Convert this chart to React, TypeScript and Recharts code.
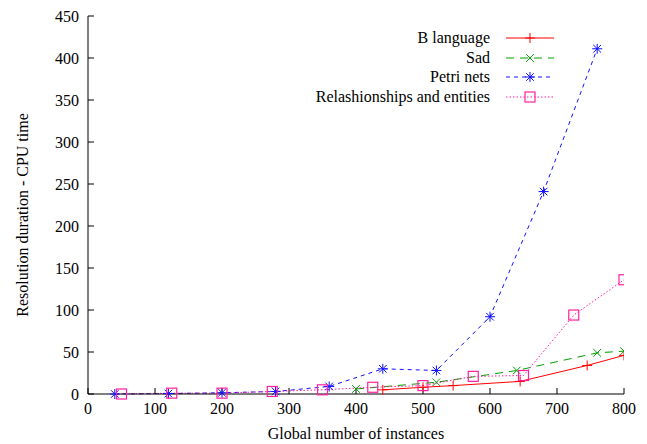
import { LineChart, Line, XAxis, YAxis, Label } from 'recharts';

const xTicks = [0, 100, 200, 300, 400, 500, 600, 700, 800];
const yTicks = [0, 50, 100, 150, 200, 250, 300, 350, 400, 450];

const bX = [440, 500, 545, 645, 745, 800];
const bY = [5, 8, 10, 15, 34, 46];

const sadX = [400, 520, 640, 760, 800];
const sadY = [6, 14, 28, 49, 51];

const petriX = [40, 120, 200, 280, 360, 440, 520, 600, 680, 760];
const petriY = [0, 0.5, 1.5, 3, 9, 30, 28, 92, 241, 411];

const relX = [50, 125, 200, 275, 350, 425, 500, 575, 650, 725, 800];
const relY = [0, 1, 1, 3, 5, 8, 10, 21, 22, 94, 136];

const FONT = "'Liberation Serif', 'Times New Roman', Times, 'DejaVu Serif', serif";

const zip = (xs: number[], ys: number[]) => xs.map((x, i) => ({ x, y: ys[i] }));

type Mark = 'plus' | 'cross' | 'star' | 'square';

function marker(kind: Mark, cx: number, cy: number, color: string, key?: string) {
  const s = 5;
  if (kind === 'plus') {
    return (
      <g key={key} stroke={color} strokeWidth={1}>
        <line x1={cx - s} y1={cy} x2={cx + s} y2={cy} />
        <line x1={cx} y1={cy - s} x2={cx} y2={cy + s} />
      </g>
    );
  }
  if (kind === 'cross') {
    const d = 3.8;
    return (
      <g key={key} stroke={color} strokeWidth={1}>
        <line x1={cx - d} y1={cy - d} x2={cx + d} y2={cy + d} />
        <line x1={cx - d} y1={cy + d} x2={cx + d} y2={cy - d} />
      </g>
    );
  }
  if (kind === 'star') {
    const d = 3.8;
    return (
      <g key={key} stroke={color} strokeWidth={1}>
        <line x1={cx - s} y1={cy} x2={cx + s} y2={cy} />
        <line x1={cx} y1={cy - s} x2={cx} y2={cy + s} />
        <line x1={cx - d} y1={cy - d} x2={cx + d} y2={cy + d} />
        <line x1={cx - d} y1={cy + d} x2={cx + d} y2={cy - d} />
      </g>
    );
  }
  return (
    <rect key={key} x={cx - 5} y={cy - 5} width={10} height={10} fill="none" stroke={color} strokeWidth={1.2} />
  );
}

const series = [
  { name: 'B language', data: zip(bX, bY), color: '#ff0000', dash: undefined, mark: 'plus' as Mark },
  { name: 'Sad', data: zip(sadX, sadY), color: '#00a000', dash: '8 6', mark: 'cross' as Mark },
  { name: 'Petri nets', data: zip(petriX, petriY), color: '#1010ff', dash: '4 4', mark: 'star' as Mark },
  { name: 'Relashionships and entities', data: zip(relX, relY), color: '#ff20a0', dash: '1.5 2', mark: 'square' as Mark },
];

function LegendBox() {
  return (
    <div
      style={{
        position: 'absolute',
        top: 28,
        left: 204,
        width: 362,
        fontFamily: FONT,
        fontSize: 16,
        color: '#000',
      }}
    >
      {series.map((s) => (
        <div key={s.name} style={{ display: 'flex', alignItems: 'center', height: 19.7, justifyContent: 'flex-end' }}>
          <span style={{ whiteSpace: 'nowrap' }}>{s.name}</span>
          <svg width={64} height={16} style={{ marginLeft: 12 }}>
            <line x1={4} y1={8} x2={52} y2={8} stroke={s.color} strokeWidth={1} strokeDasharray={s.dash} />
            {marker(s.mark, 28, 8, s.color)}
          </svg>
        </div>
      ))}
    </div>
  );
}

export default function App() {
  const tickStyle = { fontFamily: FONT, fontSize: 16, fill: '#000' };
  return (
    <div style={{ position: 'absolute', left: 0, top: 0, width: 647, height: 444, background: '#fff' }}>
      <LineChart width={647} height={444} margin={{ top: 16, right: 23, bottom: 0, left: 0 }}>
        <XAxis
          xAxisId="b"
          dataKey="x"
          type="number"
          domain={[0, 800]}
          ticks={xTicks}
          allowDataOverflow
          height={50}
          tickSize={-6}
          tickMargin={15}
          stroke="#000"
          tick={tickStyle}
        >
          <Label
            content={() => (
              <text x={356} y={439} textAnchor="middle" fontFamily={FONT} fontSize={16} fill="#000">
                Global number of instances
              </text>
            )}
          />
        </XAxis>
        <XAxis
          xAxisId="t"
          orientation="top"
          dataKey="x"
          type="number"
          domain={[0, 800]}
          ticks={xTicks}
          height={0}
          tickSize={-6}
          tickFormatter={() => ''}
          stroke="#000"
        />
        <YAxis
          yAxisId="l"
          type="number"
          domain={[0, 450]}
          ticks={yTicks}
          width={88}
          tickSize={-6}
          tickMargin={15}
          stroke="#000"
          tick={tickStyle}
        >
          <Label
            content={() => (
              <text
                x={22}
                y={215}
                transform="rotate(-90 22 215)"
                textAnchor="middle"
                dominantBaseline="central"
                fontFamily={FONT}
                fontSize={16}
                fill="#000"
              >
                Resolution duration - CPU time
              </text>
            )}
          />
        </YAxis>
        <YAxis
          yAxisId="r"
          orientation="right"
          type="number"
          domain={[0, 450]}
          ticks={yTicks}
          width={0}
          tickSize={-6}
          tickFormatter={() => ''}
          stroke="#000"
        />
        {series.map((s) => (
          <Line
            key={s.name}
            xAxisId="b"
            yAxisId="l"
            data={s.data}
            dataKey="y"
            name={s.name}
            type="linear"
            stroke={s.color}
            strokeWidth={1}
            strokeDasharray={s.dash}
            isAnimationActive={false}
            dot={(p: any) => marker(s.mark, p.cx, p.cy, s.color, `${s.name}-${p.index}`)}
            activeDot={false}
          />
        ))}
      </LineChart>
      <LegendBox />
    </div>
  );
}
